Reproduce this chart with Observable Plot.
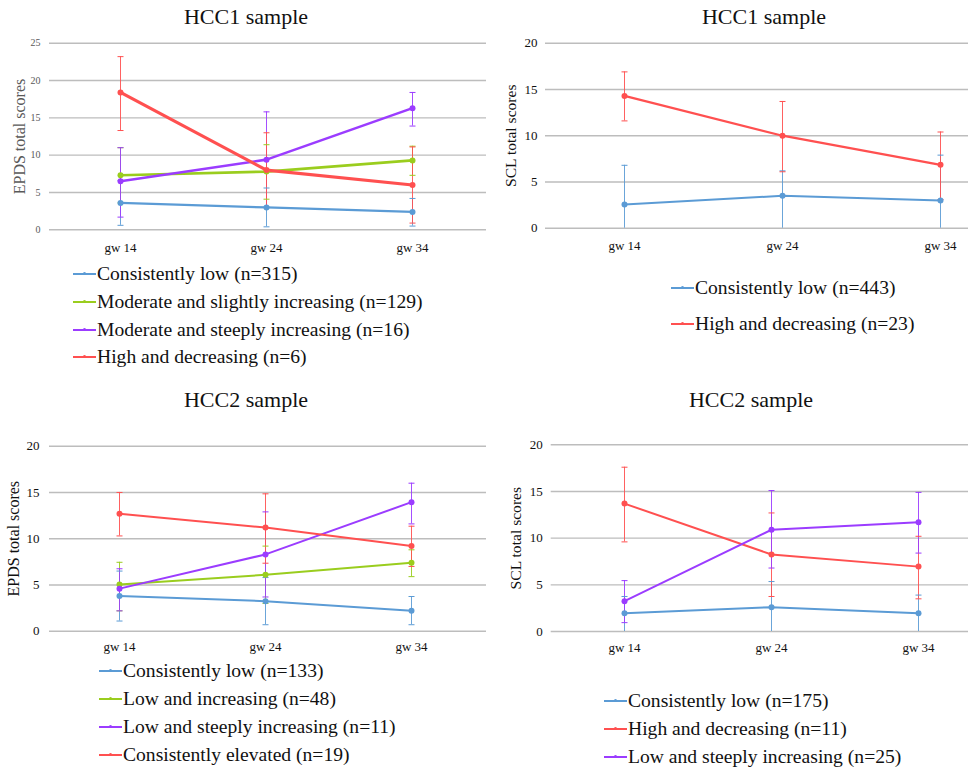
<!DOCTYPE html>
<html><head><meta charset="utf-8">
<script src="https://cdn.jsdelivr.net/npm/d3@7"></script>
<script src="https://cdn.jsdelivr.net/npm/@observablehq/plot@0.6"></script>
<style>
body{margin:0;background:#fff;color:#111;font-family:'Liberation Serif',serif}
#root{position:relative;width:968px;height:768px;overflow:hidden;background:#fff}
.title{position:absolute;font-size:22px;transform:translate(-50%,-50%);white-space:nowrap;line-height:26px}
.panel{position:absolute}
.leg{position:absolute;font-size:19.6px;line-height:22px;white-space:nowrap;display:flex;align-items:center}
.leg svg{display:block;margin-right:1px}
</style></head>
<body><div id="root"></div>
<script>
const weeks = ["gw 14", "gw 24", "gw 34"];

// Panel 1: HCC1 sample, EPDS
const p1Series = ["Consistently low (n=315)", "Moderate and slightly increasing (n=129)", "Moderate and steeply increasing (n=16)", "High and decreasing (n=6)"];
const p1Mean = [[3.6, 3.0, 2.4], [7.3, 7.8, 9.3], [6.5, 9.4, 16.3], [18.4, 8.0, 6.0]];
const p1Low  = [[0.6, 0.4, 0.5], [3.6, 4.1, 7.3], [1.7, 3.0, 13.9], [13.3, 3.0, 0.9]];
const p1High = [[6.6, 5.6, 4.2], [11.0, 11.4, 11.2], [11.0, 15.8, 18.4], [23.2, 13.0, 11.1]];

// Panel 2: HCC1 sample, SCL
const p2Series = ["Consistently low (n=443)", "High and decreasing (n=23)"];
const p2Mean = [[2.56, 3.5, 3.0], [14.3, 10.0, 6.85]];
const p2Low  = [[0, 0, 0], [11.6, 6.1, 3.1]];
const p2High = [[6.8, 6.2, 7.9], [16.9, 13.7, 10.4]];

// Panel 3: HCC2 sample, EPDS
const p3Series = ["Consistently low (n=133)", "Low and increasing (n=48)", "Low and steeply increasing (n=11)", "Consistently elevated (n=19)"];
const p3Mean = [[3.8, 3.25, 2.2], [5.05, 6.1, 7.4], [4.6, 8.3, 13.95], [12.7, 11.2, 9.2]];
const p3Low  = [[1.1, 0.7, 0.7], [2.2, 3.0, 5.9], [2.2, 3.7, 11.6], [10.3, 7.35, 7.0]];
const p3High = [[6.5, 5.8, 3.75], [7.45, 9.2, 8.8], [6.75, 12.9, 16.0], [15.0, 14.85, 11.35]];

// Panel 4: HCC2 sample, SCL
const p4Series = ["Consistently low (n=175)", "High and decreasing (n=11)", "Low and steeply increasing (n=25)"];
const p4Mean = [[1.96, 2.6, 1.96], [13.7, 8.25, 6.95], [3.25, 10.9, 11.7]];
const p4Low  = [[0, 0, 0], [9.6, 3.75, 3.5], [0.95, 6.8, 8.4]];
const p4High = [[3.75, 5.35, 3.9], [17.6, 12.7, 10.2], [5.45, 15.1, 14.9]];

const BLUE = "#5b9bd5", GREEN = "#9acd1e", PURPLE = "#9b3cff", RED = "#ff5050";
const FONT = "'Liberation Serif', serif";

const root = document.getElementById("root");

const capSymbol = {draw(ctx, size) { const r = Math.sqrt(size / Math.PI); ctx.moveTo(-r, 0); ctx.lineTo(r, 0); }};

function panel(cfg) {
  const rows = [];
  cfg.series.forEach((s, i) => weeks.forEach((w, j) => rows.push({
    series: s, week: w, mean: cfg.mean[i][j], low: Math.max(0, cfg.low[i][j]), high: cfg.high[i][j], sw: cfg.widths[i]
  })));
  const yTicks = d3.range(0, cfg.yMax + 0.1, 5);
  const chart = Plot.plot({
    width: cfg.width, height: cfg.height,
    marginTop: cfg.mt, marginBottom: cfg.mb, marginLeft: cfg.ml, marginRight: 0,
    style: {fontFamily: FONT, background: "transparent", overflow: "visible"},
    x: {type: "point", domain: weeks, range: cfg.xRange, padding: 0},
    y: {domain: [0, cfg.yMax]},
    color: {domain: cfg.series, range: cfg.colors},
    marks: [
      Plot.ruleY(yTicks, {stroke: "#bdbdbd", strokeWidth: 1.4}),
      Plot.axisY(yTicks, {tickSize: 0, tickPadding: cfg.yPad, fontSize: cfg.yFont, color: cfg.tickColor, label: null}),
      Plot.axisX({tickSize: 0, tickPadding: cfg.xPad, fontSize: 13, color: "#111", label: null}),
      Plot.text([cfg.ylabel], {text: d => d, frameAnchor: "left", textAnchor: "middle", lineAnchor: "middle", dx: cfg.ylabelDx, rotate: -90, fontSize: cfg.labelFont, fill: cfg.labelColor}),
      Plot.ruleX(rows, {x: "week", y1: "low", y2: "high", stroke: "series", strokeWidth: 1, strokeOpacity: 0.9}),
      Plot.dot(rows, {x: "week", y: "high", symbol: capSymbol, r: 3, stroke: "series", strokeWidth: 1}),
      Plot.dot(rows.filter(d => d.low > 0), {x: "week", y: "low", symbol: capSymbol, r: 3, stroke: "series", strokeWidth: 1}),
      Plot.line(rows, {x: "week", y: "mean", z: "series", stroke: "series", strokeWidth: "sw"}),
      Plot.dot(rows, {x: "week", y: "mean", fill: "series", r: 3})
    ]
  });
  const div = document.createElement("div");
  div.className = "panel";
  div.style.left = cfg.left + "px"; div.style.top = cfg.top + "px";
  div.appendChild(chart);
  root.appendChild(div);

  const t = document.createElement("div");
  t.className = "title"; t.textContent = cfg.title;
  t.style.left = cfg.titleX + "px"; t.style.top = cfg.titleY + "px";
  root.appendChild(t);

  cfg.series.forEach((s, i) => {
    const l = document.createElement("div");
    l.className = "leg";
    l.style.left = cfg.legX + "px";
    l.style.top = (cfg.legY + i * cfg.legStep - 11) + "px";
    l.innerHTML = `<svg width="23" height="10"><line x1="0" y1="5" x2="23" y2="5" stroke="${cfg.colors[i]}" stroke-width="2"/><circle cx="11.5" cy="4.5" r="1.6" fill="${cfg.colors[i]}"/></svg>`;
    const sp = document.createElement("span"); sp.textContent = s; l.appendChild(sp);
    root.appendChild(l);
  });
}

panel({
  title: "HCC1 sample", titleX: 246, titleY: 17,
  left: 0, top: 30, width: 486, height: 235, mt: 12.7, mb: 35.7, ml: 49,
  xRange: [120, 412], yMax: 25, yPad: 9, yFont: 10, xPad: 13, tickColor: "#595959",
  ylabel: "EPDS total scores", ylabelDx: 19.5 - 49, labelColor: "#595959", labelFont: 16,
  series: p1Series, mean: p1Mean, low: p1Low, high: p1High,
  colors: [BLUE, GREEN, PURPLE, RED], widths: [2.2, 2.6, 2.6, 3.2],
  legX: 73, legY: 274, legStep: 27.8
});
panel({
  title: "HCC1 sample", titleX: 764, titleY: 17,
  left: 490, top: 30, width: 478, height: 235, mt: 12.7, mb: 37.3, ml: 55,
  xRange: [134, 450], yMax: 20, yPad: 8, yFont: 13, xPad: 13, tickColor: "#111",
  ylabel: "SCL total scores", ylabelDx: 510 - 545, labelColor: "#111", labelFont: 15.6,
  series: p2Series, mean: p2Mean, low: p2Low, high: p2High,
  colors: [BLUE, RED], widths: [2, 2.2],
  legX: 671, legY: 288.3, legStep: 35.7
});
panel({
  title: "HCC2 sample", titleX: 246, titleY: 400,
  left: 0, top: 430, width: 486, height: 235, mt: 15.7, mb: 34.3, ml: 49,
  xRange: [119.3, 411.7], yMax: 20, yPad: 10, yFont: 13, xPad: 11, tickColor: "#111",
  ylabel: "EPDS total scores", ylabelDx: 13.5 - 49, labelColor: "#111", labelFont: 16,
  series: p3Series, mean: p3Mean, low: p3Low, high: p3High,
  colors: [BLUE, GREEN, PURPLE, RED], widths: [2, 2, 2, 2],
  legX: 99, legY: 670.7, legStep: 28.1
});
panel({
  title: "HCC2 sample", titleX: 751, titleY: 400,
  left: 490, top: 430, width: 478, height: 235, mt: 14.3, mb: 34, ml: 60.7,
  xRange: [134, 428.3], yMax: 20, yPad: 8.5, yFont: 13, xPad: 11, tickColor: "#111",
  ylabel: "SCL total scores", ylabelDx: 515.7 - 550.7, labelColor: "#111", labelFont: 15.6,
  series: p4Series, mean: p4Mean, low: p4Low, high: p4High,
  colors: [BLUE, RED, PURPLE], widths: [2, 2, 2],
  legX: 604, legY: 700.7, legStep: 28.3
});
</script>
</body></html>
